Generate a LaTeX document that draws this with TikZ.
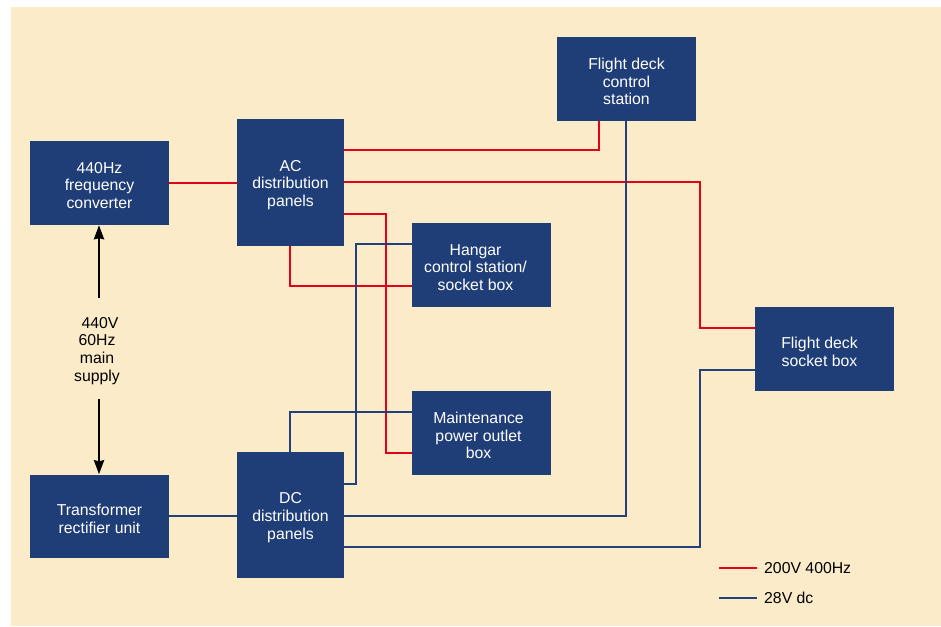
\documentclass[tikz,border=0pt]{standalone}
\usepackage{fontspec}
\setmainfont{Liberation Sans}
\usetikzlibrary{arrows.meta}
\definecolor{bgc}{HTML}{FBEBC9}
\definecolor{boxc}{HTML}{1F3E78}
\definecolor{redc}{HTML}{E2001A}
\definecolor{bluec}{HTML}{23407A}
\begin{document}
\begin{tikzpicture}[x=1pt,y=-1pt,
  box/.style={fill=boxc, draw=none, inner sep=0pt},
  boxtext/.style={text=white, align=center, inner sep=0pt, yshift=-2.5pt,
    font=\fontsize{15.8}{17.8}\selectfont},
  redline/.style={draw=redc, line width=2.2pt},
  blueline/.style={draw=bluec, line width=2.2pt},
  supplyarrow/.style={draw=black, line width=2.4pt, -{Stealth[length=14pt,width=10pt,inset=1pt]}},
  lbl/.style={text=black, align=center, inner sep=0pt, font=\fontsize{15.8}{17.8}\selectfont}]
\useasboundingbox (0,0) rectangle (941,626);
\fill[bgc] (11,7) rectangle (941,626);

% boxes
\node[box, minimum width=139pt, minimum height=84pt,
  label={[boxtext]center:{440Hz\\frequency\\converter}}] (fc) at (99.5,183) {};
\node[box, minimum width=139pt, minimum height=83pt,
  label={[boxtext]center:{Transformer\\rectifier unit}}] (tr) at (99.5,516) {};
\node[box, minimum width=107pt, minimum height=127pt,
  label={[boxtext]center:{AC\\distribution\\panels}}] (ac) at (290.5,182.5) {};
\node[box, minimum width=107pt, minimum height=126pt,
  label={[boxtext]center:{DC\\distribution\\panels}}] (dc) at (290.5,515) {};
\node[box, minimum width=139pt, minimum height=84pt,
  label={[boxtext,xshift=-6pt]center:{Hangar\\control station/\\socket box}}] (hg) at (481.5,265) {};
\node[box, minimum width=139pt, minimum height=84pt,
  label={[boxtext,xshift=-3pt]center:{Maintenance\\power outlet\\box}}] (mp) at (481.5,433) {};
\node[box, minimum width=139pt, minimum height=84pt,
  label={[boxtext]center:{Flight deck\\control\\station}}] (fdcs) at (626.5,79) {};
\node[box, minimum width=139pt, minimum height=84pt,
  label={[boxtext,xshift=-5pt]center:{Flight deck\\socket box}}] (fdsb) at (824.5,349) {};

% red (200V 400Hz)
\draw[redline] (fc.east) -- (fc.east -| ac.west);
\draw[redline] (ac.east |- 0,150) -| (fdcs.south -| 599,0);
\draw[redline] (ac.east |- 0,182) -| (700,328) -- (fdsb.west |- 0,328);
\draw[redline] (ac.east |- 0,214) -| (386,453) -- (mp.west |- 0,453);
\draw[redline] (ac.south -| 290,0) |- (hg.west |- 0,286);

% blue (28V dc)
\draw[blueline] (hg.west |- 0,244) -| (356,484) -- (dc.east |- 0,484);
\draw[blueline] (mp.west |- 0,412) -| (dc.north -| 290,0);
\draw[blueline] (tr.east |- 0,516) -- (dc.west |- 0,516);
\draw[blueline] (dc.east |- 0,516) -| (fdcs.south -| 626,0);
\draw[blueline] (dc.east |- 0,547) -| (700,370) -- (fdsb.west |- 0,370);

% main supply
\coordinate (a1) at (99,298);
\coordinate (a2) at (99,399);
\draw[supplyarrow] (a1) -- (fc.south -| a1);
\draw[supplyarrow] (a2) -- (tr.north -| a2);
\node[lbl] (supply) at (97,351) {\hspace*{6pt}440V\\60Hz\\main\\supply};

% legend
\coordinate (l1a) at (719,568);
\coordinate (l1b) at (757,568);
\coordinate (l2a) at (719,598);
\coordinate (l2b) at (757,598);
\draw[redline] (l1a) -- (l1b);
\draw[blueline] (l2a) -- (l2b);
\node[lbl, anchor=west] (leg1) at (764,568) {200V 400Hz};
\node[lbl, anchor=west] (leg2) at (764,598) {28V dc};
\end{tikzpicture}
\end{document}
